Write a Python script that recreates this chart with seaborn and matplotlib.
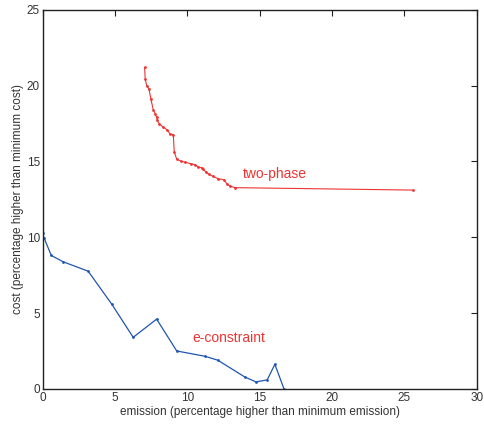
# chart: cost vs emission, two-phase vs e-constraint

import pandas as pd
import seaborn as sns
import matplotlib.pyplot as plt

# two-phase frontier (red)
two_phase_x = [7.05, 7.09, 7.19, 7.35, 7.48, 7.48, 7.65, 7.78, 7.88, 7.92, 8.06, 8.34,
               8.61, 8.80, 9.03, 9.10, 9.26, 9.54, 9.83, 10.23, 10.55, 10.76, 10.99,
               11.10, 11.29, 11.52, 11.79, 12.14, 12.53, 12.76, 12.94, 13.29, 25.57]
two_phase_y = [21.2, 20.44, 20.0, 19.78, 19.39, 18.86, 18.4, 18.14, 17.9, 17.7, 17.48, 17.26,
               17.08, 16.82, 16.76, 15.61, 15.17, 15.02, 14.96, 14.85, 14.78, 14.63, 14.58,
               14.47, 14.3, 14.14, 14.01, 13.86, 13.79, 13.49, 13.38, 13.27, 13.11]

# e-constraint frontier (blue)
e_con_x = [0.0, 0.09, 0.6, 1.42, 3.15, 4.79, 6.26, 7.88, 9.27, 11.22, 12.11, 13.96,
           14.74, 15.52, 16.05, 16.68]
e_con_y = [10.28, 9.98, 8.8, 8.38, 7.76, 5.57, 3.4, 4.6, 2.5, 2.15, 1.89, 0.79,
           0.46, 0.59, 1.62, 0.0]

df_tp = pd.DataFrame({'emission': two_phase_x, 'cost': two_phase_y})
df_ec = pd.DataFrame({'emission': e_con_x, 'cost': e_con_y})

sns.set_style('white')
plt.rcParams['font.family'] = ['Liberation Sans', 'DejaVu Sans']

fig = plt.figure(figsize=(4.84, 4.25), dpi=100)
ax = fig.add_axes([0.088, 0.085, 0.897, 0.892])

sns.lineplot(data=df_tp, x='emission', y='cost', sort=False, color='#ee3333',
             linewidth=0.8, marker='o', markersize=2, markeredgewidth=0, ax=ax)
sns.lineplot(data=df_ec, x='emission', y='cost', sort=False, color='#1f56b0',
             linewidth=0.9, marker='o', markersize=2, markeredgewidth=0, ax=ax)

ax.text(13.85, 14.2, 'two-phase', color='#ee3333', fontsize=10, va='center')
ax.text(10.34, 3.33, 'e-constraint', color='#ee3333', fontsize=10, va='center')

ax.set_xlim(0, 30)
ax.set_ylim(0, 25)
ax.set_xticks([0, 5, 10, 15, 20, 25, 30])
ax.set_yticks([0, 5, 10, 15, 20, 25])
ax.tick_params(direction='in', length=4, width=0.8, labelsize=8.5,
               top=True, right=True, colors='#222222', labelcolor='#333333', pad=2)
for s in ax.spines.values():
    s.set_color('#222222')
    s.set_linewidth(1.0)

ax.set_xlabel('emission (percentage higher than minimum emission)', fontsize=8.5,
              color='#333333', labelpad=2)
ax.set_ylabel('cost (percentage higher than minimum cost)', fontsize=8.5,
              color='#333333', labelpad=2)

fig.savefig('out.png', dpi=100)
